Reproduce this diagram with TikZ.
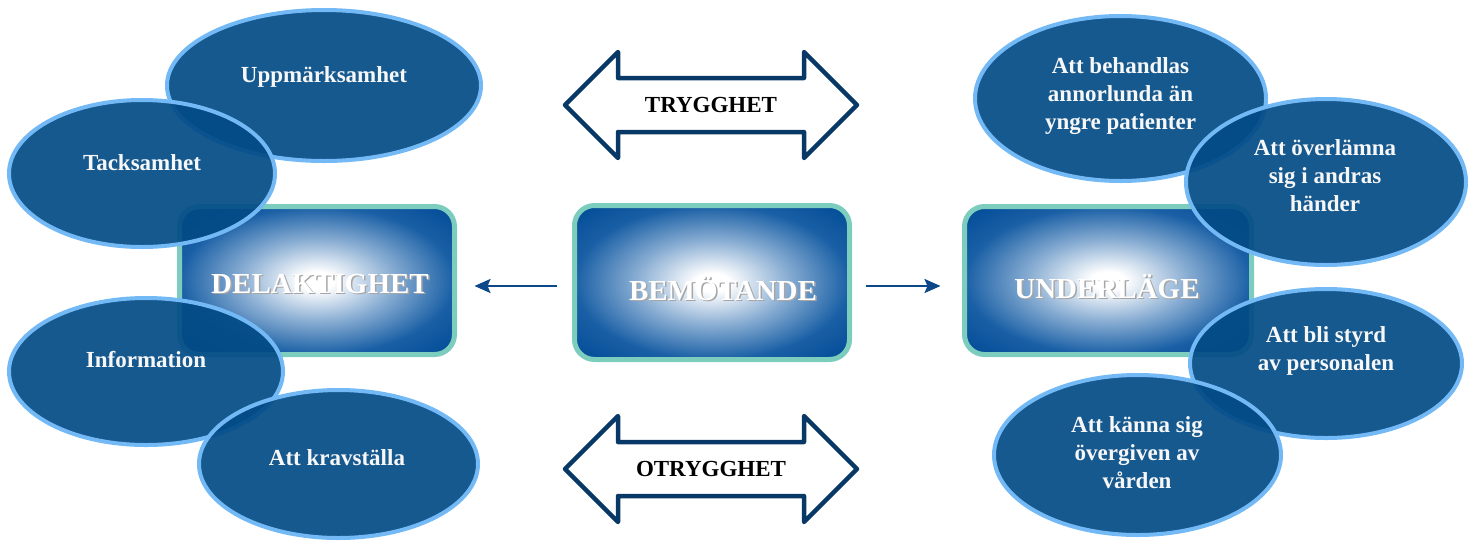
\documentclass[tikz,border=0pt]{standalone}
\usepackage{fontspec}
\setmainfont{Liberation Serif}
\usetikzlibrary{shapes.geometric,arrows.meta}

\definecolor{bubblue}{RGB}{2,75,134}
\definecolor{bubrim}{RGB}{115,185,245}
\definecolor{boxblue}{RGB}{0,74,150}
\definecolor{boxmid}{RGB}{135,172,210}
\definecolor{boxedge}{RGB}{25,95,165}
\definecolor{boxrim}{RGB}{125,205,190}
\definecolor{navy}{RGB}{8,56,102}
\definecolor{linkblue}{RGB}{12,72,138}

\pgfdeclareradialshading{boxglow}{\pgfpoint{0bp}{0bp}}{%
  color(0bp)=(white); color(3bp)=(white);
  color(14bp)=(boxmid); color(25bp)=(boxedge);
  color(35bp)=(boxblue); color(50bp)=(boxblue)}

% white label with a soft grey shadow
\newcommand{\shadowed}[1]{\rlap{\kern1.5pt\raisebox{-1.5pt}{\textcolor{black!35}{#1}}}#1}

% double arrow drawn round a label node
\newcommand{\dblarrow}[1]{%
  \draw[dblarrow] ([xshift=-146pt]#1.center) -- ++(53,-53) -- ++(0,26)
    -- ++(186,0) -- ++(0,-26) -- ++(53,53) -- ++(-53,53) -- ++(0,-26)
    -- ++(-186,0) -- ++(0,26) -- cycle;}

\begin{document}
\begin{tikzpicture}[x=1pt,y=-1pt,
  box/.style={rounded corners=20pt, draw=boxrim, line width=5pt,
    shading=boxglow, inner sep=0pt},
  boxtext/.style={text=white, font=\bfseries\fontsize{29}{32}\selectfont,
    text height=20pt, text depth=0pt},
  bubble/.style={ellipse, draw=bubrim, line width=4pt, fill=bubblue,
    fill opacity=0.92, inner sep=0pt},
  bubtext/.style={text=white!94!gray, font=\bfseries\fontsize{23}{28}\selectfont,
    align=center},
  oneline/.style={text height=15pt, text depth=0pt},
  dbltext/.style={text=black, font=\bfseries\fontsize{23}{28}\selectfont,
    text height=15pt, text depth=0pt},
  dblarrow/.style={draw=navy, line width=4.5pt, line join=round},
  link/.style={draw=linkblue, line width=2.2pt,
    -{Stealth[length=16pt,width=14pt,inset=3pt]}}]
  \useasboundingbox (0,0) rectangle (1475,542);

  % central boxes
  \node[box, minimum width=275pt, minimum height=148pt] (del) at (317,280.5) {};
  \node[box, minimum width=275pt, minimum height=154pt] (bem) at (712,282.5) {};
  \node[box, minimum width=287pt, minimum height=148pt] (und) at (1108,280.5) {};
  \node[boxtext] (deltext) at ([xshift=3pt,yshift=-2.5pt]del.center) {\shadowed{DELAKTIGHET}};
  \node[boxtext] (bemtext) at ([xshift=11pt,yshift=-7.5pt]bem.center) {\shadowed{BEMÖTANDE}};
  \node[boxtext] (undtext) at ([xshift=-1pt,yshift=-7.5pt]und.center) {\shadowed{UNDERLÄGE}};

  % connectors
  \coordinate (ltail) at ([yshift=-3.5pt]bem.west);
  \coordinate (rtail) at ([yshift=-3.5pt]bem.east);
  \draw[link, shorten <=15.5pt, shorten >=17.5pt] (ltail) -- (ltail -| del.east);
  \draw[link, shorten <=13.5pt, shorten >=21.5pt] (rtail) -- (rtail -| und.west);

  % double arrows
  \node[dbltext] (trygg) at (711,105) {TRYGGHET};
  \node[dbltext] (otrygg) at (711,469) {OTRYGGHET};
  \dblarrow{trygg}
  \dblarrow{otrygg}

  % bubbles, left
  \node[bubble, minimum width=314pt, minimum height=151pt] (upp) at (324,85.5) {};
  \node[bubble, minimum width=266pt, minimum height=147pt] (tack) at (142,173.5) {};
  \node[bubble, minimum width=274pt, minimum height=147pt] (info) at (146,371.5) {};
  \node[bubble, minimum width=279pt, minimum height=148pt] (krav) at (338.5,464) {};
  % bubbles, right
  \node[bubble, minimum width=291pt, minimum height=165pt] (beh) at (1120.5,98.5) {};
  \node[bubble, minimum width=280pt, minimum height=166pt] (over) at (1326,182) {};
  \node[bubble, minimum width=272pt, minimum height=149pt] (styrd) at (1326,363.5) {};
  \node[bubble, minimum width=287pt, minimum height=160pt] (kanna) at (1137.5,455) {};

  % bubble texts
  \node[bubtext, oneline] (upptext) at ([yshift=10.5pt]upp.center) {Uppmärksamhet};
  \node[bubtext, oneline] (tacktext) at ([yshift=10.5pt]tack.center) {Tacksamhet};
  \node[bubtext, oneline] (infotext) at ([yshift=11.5pt]info.center) {Information};
  \node[bubtext, oneline] (kravtext) at ([xshift=-1.5pt,yshift=6pt]krav.center) {Att kravställa};
  \node[bubtext] (behtext) at ([yshift=2.5pt]beh.center) {Att behandlas\\annorlunda än\\yngre patienter};
  \node[bubtext] (overtext) at ([xshift=-1pt,yshift=6pt]over.center) {Att överlämna\\sig i andras\\händer};
  \node[bubtext] (styrdtext) at ([yshift=12.5pt]styrd.center) {Att bli styrd\\av personalen};
  \node[bubtext] (kannatext) at ([xshift=-0.5pt,yshift=2pt]kanna.center) {Att känna sig\\övergiven av\\vården};
\end{tikzpicture}
\end{document}
